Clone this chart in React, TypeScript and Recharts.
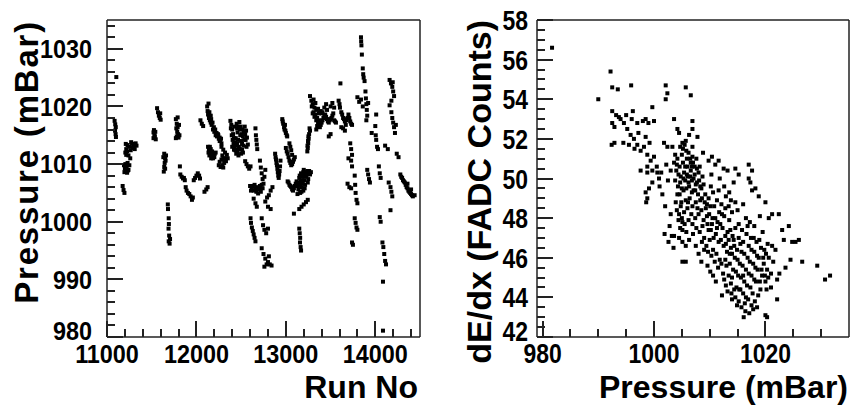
import React from "react";
import { ScatterChart, Scatter, XAxis, YAxis, Label } from "recharts";

// run number vs pressure (mBar)
const runsEarly: [number, number][] = [
  [11104, 1025.1],
  [11085, 1017.5], [11092, 1016.9], [11098, 1016.4], [11090, 1015.8], [11096, 1015.2], [11100, 1014.7],
  [11205, 1012.0], [11215, 1012.6], [11230, 1013.3], [11250, 1013.0], [11265, 1012.4], [11280, 1013.5],
  [11300, 1013.2], [11320, 1013.6], [11240, 1011.5], [11260, 1011.0],
  [11210, 1013.5], [11225, 1012.2], [11270, 1013.8], [11290, 1012.8], [11310, 1012.6], [11330, 1013.2], [11215, 1011.6],
  [11190, 1009.8], [11200, 1009.2], [11210, 1008.7], [11225, 1008.5], [11240, 1009.0], [11250, 1009.8], [11230, 1010.2],
  [11195, 1008.6], [11205, 1010.0], [11220, 1009.6], [11235, 1008.9],
  [11175, 1006.2], [11185, 1005.5], [11195, 1005.0],
  [11520, 1014.5], [11530, 1015.0], [11540, 1015.6], [11525, 1015.9], [11545, 1014.3], [11535, 1014.8], [11520, 1015.5],
  [11560, 1019.7], [11570, 1019.0], [11580, 1018.4], [11590, 1018.0], [11600, 1017.7], [11595, 1018.8],
  [11640, 1011.8], [11650, 1011.0], [11645, 1010.2], [11640, 1009.5], [11635, 1008.7], [11655, 1010.6], [11660, 1011.5],
  [11630, 1011.2], [11650, 1009.2],
  [11680, 1003.0], [11682, 1002.2], [11690, 1000.6], [11692, 999.6], [11688, 998.8], [11695, 997.6],
  [11690, 996.6], [11700, 996.2], [11705, 997.0],
  [11770, 1017.8], [11780, 1017.0], [11790, 1016.4], [11785, 1015.6], [11780, 1014.8], [11800, 1014.6],
  [11810, 1015.0], [11770, 1014.5], [11790, 1018.1], [11775, 1016.2], [11795, 1015.2], [11805, 1016.8],
  [11815, 1009.6], [11820, 1008.2], [11835, 1007.8], [11850, 1007.5], [11860, 1007.6], [11870, 1007.2],
  [11880, 1006.0], [11890, 1005.4], [11905, 1005.0], [11920, 1004.8], [11935, 1004.4], [11950, 1003.8], [11960, 1004.2],
  [11970, 1007.2], [11985, 1007.6], [12000, 1008.0], [12015, 1008.4], [12030, 1008.0], [12040, 1007.5],
  [12090, 1005.2], [12110, 1005.6], [12125, 1006.0],
  [12045, 1017.6], [12060, 1017.0], [12075, 1016.6],
  [12120, 1020.0], [12125, 1019.2], [12130, 1018.6], [12140, 1018.0], [12150, 1017.6], [12160, 1017.2],
  [12170, 1016.8], [12185, 1016.0], [12200, 1015.6], [12215, 1015.0], [12230, 1014.8], [12250, 1014.4],
  [12265, 1014.0], [12280, 1013.6], [12135, 1020.5], [12160, 1018.4],
  [12145, 1019.0], [12165, 1017.8], [12180, 1017.2], [12195, 1016.4], [12210, 1016.0], [12225, 1015.4],
  [12245, 1015.0], [12260, 1014.0], [12275, 1014.4],
  [12130, 1013.0], [12140, 1012.5], [12155, 1012.0], [12170, 1011.5], [12185, 1011.0], [12200, 1011.2],
  [12215, 1012.0], [12150, 1013.0], [12135, 1012.0], [12145, 1011.5], [12160, 1012.6], [12175, 1012.2],
  [12190, 1011.6], [12205, 1011.8], [12165, 1011.0],
  [12240, 1015.2], [12260, 1014.6], [12280, 1013.0], [12300, 1012.5], [12320, 1012.0], [12290, 1011.5], [12310, 1011.0],
  [12250, 1009.8], [12270, 1009.5], [12290, 1009.8], [12310, 1010.2], [12330, 1010.5], [12350, 1011.0],
  [12260, 1010.4], [12280, 1010.8], [12300, 1011.0], [12320, 1010.8], [12340, 1011.6], [12300, 1009.4],
];

const runsMid: [number, number][] = [
  [12380, 1017.5], [12390, 1016.8], [12400, 1016.0], [12410, 1015.2], [12420, 1014.5], [12430, 1013.8],
  [12440, 1013.2], [12450, 1012.5], [12460, 1012.0], [12470, 1011.5], [12400, 1013.0], [12420, 1012.5],
  [12440, 1014.5], [12460, 1015.5], [12470, 1016.5], [12480, 1017.3], [12490, 1015.0], [12500, 1014.0],
  [12510, 1013.5], [12520, 1014.8], [12530, 1015.5], [12540, 1016.5], [12550, 1014.2], [12560, 1013.0],
  [12520, 1012.0], [12500, 1011.8], [12450, 1017.0], [12430, 1016.5],
  [12385, 1016.2], [12395, 1015.0], [12405, 1014.2], [12415, 1013.6], [12425, 1013.0], [12435, 1012.4],
  [12445, 1011.8], [12455, 1013.6], [12465, 1014.2], [12475, 1013.0], [12485, 1016.0], [12495, 1016.5],
  [12505, 1015.2], [12515, 1016.0], [12525, 1013.2], [12535, 1014.2], [12545, 1015.2], [12555, 1015.8],
  [12565, 1014.6], [12575, 1013.4], [12485, 1012.6], [12510, 1012.5], [12455, 1016.2],
  [12545, 1010.5], [12560, 1010.0], [12575, 1009.6], [12590, 1009.2], [12605, 1009.6],
  [12600, 1006.2], [12620, 1005.8], [12640, 1005.4], [12660, 1005.8], [12680, 1006.0], [12700, 1005.6],
  [12720, 1005.2], [12740, 1005.8], [12690, 1004.9],
  [12610, 1005.4], [12630, 1006.2], [12650, 1006.4], [12670, 1005.2], [12710, 1006.2], [12730, 1006.4],
  [12660, 1016.2], [12665, 1015.0], [12670, 1014.2], [12675, 1013.4], [12680, 1012.6],
  [12605, 1000.6], [12610, 999.8], [12620, 999.0], [12630, 998.4], [12640, 997.8], [12650, 997.2], [12660, 996.6],
  [12640, 1004.0], [12660, 1003.2], [12675, 1002.6],
  [12710, 1010.6], [12720, 1009.4], [12730, 1008.4], [12740, 1007.4], [12750, 1006.6], [12760, 1007.8], [12770, 1009.0],
  [12730, 1000.6], [12745, 999.4], [12760, 998.6], [12780, 998.0], [12800, 998.8],
  [12730, 995.4], [12750, 994.4], [12770, 993.6], [12785, 992.6], [12800, 993.0], [12820, 992.6],
  [12840, 992.4], [12760, 992.2], [12810, 994.0],
  [12770, 1003.5], [12790, 1004.2], [12810, 1004.6], [12830, 1005.4], [12850, 1006.0], [12800, 1002.6], [12830, 1002.2],
  [12880, 1011.8], [12890, 1010.8], [12900, 1009.8], [12910, 1008.6], [12920, 1007.6], [12930, 1008.8], [12940, 1010.6],
  [12885, 1011.2], [12895, 1010.2], [12905, 1009.2], [12915, 1008.0], [12925, 1008.2], [12935, 1009.6],
  [12960, 1017.8], [12970, 1017.0], [12985, 1016.0], [13000, 1015.4], [13015, 1014.8], [12990, 1016.8],
  [12965, 1017.4], [12980, 1016.4], [12995, 1015.8], [13010, 1015.0],
  [13000, 1012.8], [13020, 1011.8], [13040, 1010.6], [13060, 1009.8], [13080, 1010.4], [13100, 1011.2],
  [13040, 1013.6], [13060, 1012.4], [13010, 1012.2], [13030, 1011.2], [13050, 1010.2], [13070, 1010.0],
  [13090, 1010.8], [13050, 1013.0], [13070, 1011.6],
  [13020, 1007.0], [13040, 1006.4], [13060, 1006.0], [13080, 1005.4], [13100, 1006.2], [13120, 1007.0],
  [13030, 1006.8], [13050, 1006.2], [13070, 1005.6], [13090, 1005.8], [13110, 1006.6],
  [13140, 1005.6], [13160, 1006.4], [13180, 1007.2], [13200, 1008.0], [13220, 1008.6], [13240, 1008.8],
  [13150, 1007.6], [13170, 1008.4], [13190, 1006.6], [13210, 1005.8], [13130, 1004.8], [13250, 1007.4],
  [13270, 1008.2], [13160, 1005.0],
  [13135, 1006.2], [13145, 1006.8], [13155, 1008.0], [13165, 1007.0], [13175, 1006.0], [13185, 1007.8],
  [13195, 1008.6], [13205, 1007.2], [13215, 1006.4], [13225, 1007.8], [13235, 1008.2], [13245, 1006.8],
  [13175, 1005.2], [13195, 1005.4], [13260, 1008.8], [13280, 1008.6], [13200, 1009.0],
  [13090, 1001.4],
  [13150, 1002.2], [13175, 1002.6], [13200, 1003.0], [13225, 1003.4], [13245, 1003.8],
  [13150, 998.8], [13155, 998.0], [13160, 997.2], [13158, 996.4], [13165, 995.6], [13170, 995.0],
  [13240, 1012.2], [13245, 1012.8], [13250, 1013.6], [13255, 1014.4], [13260, 1015.2], [13270, 1015.8],
  [13242, 1013.2], [13248, 1014.0], [13252, 1014.8], [13265, 1016.2],
];

const runsLate: [number, number][] = [
  [13270, 1021.8], [13285, 1021.0], [13300, 1020.4], [13320, 1019.8], [13340, 1019.4], [13360, 1019.6], [13380, 1019.0],
  [13300, 1018.8], [13320, 1018.2], [13340, 1017.6], [13360, 1017.0], [13380, 1016.4], [13400, 1017.2],
  [13420, 1018.0], [13440, 1018.6], [13460, 1017.8], [13480, 1017.2], [13500, 1017.8], [13520, 1018.4],
  [13540, 1017.6], [13560, 1017.2], [13340, 1016.0], [13400, 1018.8], [13460, 1019.4], [13500, 1020.0],
  [13520, 1020.6], [13540, 1019.8],
  [13310, 1019.0], [13330, 1018.6], [13350, 1018.0], [13370, 1017.6], [13390, 1016.8], [13410, 1017.6],
  [13430, 1018.4], [13450, 1018.2], [13470, 1017.4], [13490, 1017.6], [13510, 1018.0], [13530, 1018.8],
  [13550, 1017.4], [13350, 1016.6], [13370, 1018.8], [13390, 1019.2], [13410, 1019.0], [13430, 1019.8],
  [13450, 1020.4], [13330, 1020.6], [13290, 1020.0], [13310, 1021.2],
  [13480, 1014.8], [13500, 1015.2],
  [13590, 1021.0], [13600, 1020.4], [13620, 1019.0], [13640, 1018.0], [13660, 1017.4], [13680, 1017.6],
  [13700, 1018.6], [13720, 1017.4], [13740, 1016.8], [13620, 1016.4], [13660, 1015.8], [13610, 1024.0],
  [13605, 1019.8], [13630, 1018.6], [13650, 1017.8], [13670, 1016.8], [13690, 1018.0], [13710, 1018.0],
  [13730, 1017.0], [13640, 1016.2],
  [13720, 1013.6], [13730, 1012.6], [13740, 1011.6], [13730, 1010.6], [13740, 1009.6], [13700, 1011.0],
  [13690, 1006.6], [13710, 1006.0], [13730, 1005.8],
  [13770, 1008.0], [13775, 1006.4], [13780, 1005.0], [13790, 1003.8], [13800, 1003.2],
  [13770, 1000.6], [13780, 999.8], [13790, 999.0], [13800, 998.6],
  [13740, 996.4], [13750, 996.0],
  [13800, 1021.6], [13820, 1020.8], [13840, 1021.2], [13860, 1020.0],
  [13840, 1032.0], [13842, 1031.3], [13845, 1030.6], [13850, 1029.0],
  [13860, 1026.6], [13865, 1025.6], [13870, 1025.0], [13880, 1024.4],
  [13890, 1022.6], [13895, 1021.4], [13900, 1020.4], [13905, 1019.4], [13910, 1018.4], [13900, 1017.6],
  [13920, 1020.6], [13960, 1015.4],
  [13910, 1009.0], [13920, 1008.2], [13930, 1007.4], [13940, 1006.8],
  [14010, 1018.6], [14000, 1016.6], [14005, 1015.0], [14010, 1014.2], [14020, 1013.0], [14030, 1012.6],
  [14040, 1009.6], [14050, 1008.4], [14060, 1007.6],
  [14050, 1000.8], [14060, 1000.0],
  [14080, 996.4], [14090, 995.6], [14100, 994.4], [14110, 993.2], [14120, 992.6],
  [14086, 989.6], [14086, 981.1],
  [14110, 1013.2], [14140, 1012.6],
  [14150, 1006.8], [14170, 1006.0], [14180, 1005.2], [14190, 1004.4],
  [14170, 1002.0],
  [14160, 1024.6], [14175, 1024.0], [14190, 1023.4], [14200, 1022.6], [14210, 1021.8], [14180, 1021.0], [14195, 1024.2],
  [14160, 1020.2], [14180, 1019.0], [14190, 1018.0], [14200, 1017.2], [14210, 1016.4], [14220, 1015.4], [14230, 1016.8],
  [14240, 1011.8], [14260, 1011.2],
  [14280, 1008.2], [14300, 1007.6], [14320, 1007.0], [14340, 1006.4], [14360, 1005.8], [14380, 1005.2],
  [14400, 1004.8], [14420, 1004.4], [14440, 1004.6], [14360, 1006.6], [14400, 1005.6],
  [14290, 1007.8], [14310, 1007.2], [14330, 1006.8], [14350, 1006.0], [14370, 1005.4], [14390, 1005.0], [14410, 1004.6],
];

// pressure (mBar) vs dE/dx (FADC counts), right panel
const dedxHigh: [number, number][] = [
  [981.7, 56.6], [990.0, 54.0], [992.2, 55.4], [992.5, 54.6], [993.5, 54.5], [995.9, 54.7],
  [992.5, 53.4], [993.2, 53.2], [992.5, 52.8], [992.9, 52.6], [993.7, 53.1], [992.4, 51.7], [992.9, 51.8],
  [994.0, 53.0], [994.6, 52.8], [995.2, 52.5], [995.8, 52.2], [996.4, 52.0], [997.0, 51.7], [997.6, 51.4],
  [998.2, 51.6], [998.8, 51.2], [999.4, 50.9], [995.0, 53.2], [996.0, 53.0], [997.0, 52.8], [998.0, 52.9],
  [999.0, 52.8], [1000.0, 52.9], [994.5, 51.8], [995.5, 51.7], [996.5, 51.5], [997.2, 52.3], [998.5, 52.1],
  [999.2, 51.8], [1000.0, 51.1], [1000.5, 50.6], [996.2, 53.4], [998.5, 53.0], [999.7, 53.6],
  [997.6, 50.4], [998.8, 50.6], [998.8, 50.3], [999.7, 50.4], [1000.6, 50.3],
  [998.5, 49.3], [999.1, 49.5], [998.8, 49.0], [998.6, 48.8], [999.7, 49.8], [1000.9, 50.0],
  [1002.1, 54.7], [1002.4, 54.3], [1002.1, 54.0], [1005.7, 54.6], [1006.6, 54.2],
  [1003.6, 53.0], [1004.2, 52.5], [1004.5, 52.3], [1006.9, 52.9], [1006.9, 52.5], [1006.3, 52.2],
  [1001.8, 51.8], [1002.4, 51.6], [1003.3, 51.6], [1005.1, 51.8], [1005.7, 51.9], [1006.9, 51.6], [1007.8, 52.1],
  [1001.0, 49.6], [1001.5, 49.2], [1002.0, 48.6], [1002.5, 49.9], [1003.0, 48.2], [1002.8, 47.6],
  [1003.2, 47.1], [1001.9, 47.2], [1002.6, 46.8], [1003.5, 46.5], [1003.0, 50.4], [1002.2, 50.7], [1001.3, 50.3],
];

const dedxBand: [number, number][] = [
  [1003.6, 50.8], [1004.0, 50.4], [1004.2, 51.0], [1004.6, 50.6], [1004.8, 50.1], [1005.0, 51.2],
  [1005.2, 50.8], [1005.4, 50.3], [1005.6, 49.9], [1005.8, 51.4], [1006.0, 50.6], [1006.1, 50.1],
  [1006.3, 49.6], [1006.5, 51.0], [1006.6, 50.4], [1006.8, 49.9], [1007.0, 50.8], [1007.1, 49.4],
  [1007.3, 50.2], [1007.5, 49.7], [1007.7, 50.5], [1007.9, 49.2], [1008.1, 49.9], [1008.3, 48.9],
  [1008.5, 49.5], [1008.7, 50.1], [1004.3, 49.6], [1004.6, 49.2], [1004.9, 48.8], [1005.3, 49.4],
  [1005.7, 48.9], [1006.0, 48.5], [1006.4, 49.0], [1006.9, 48.6], [1003.8, 49.9], [1004.1, 48.4],
  [1004.4, 47.9], [1005.0, 48.0], [1005.5, 47.7], [1006.2, 47.9], [1006.7, 48.2], [1007.4, 48.0],
  [1007.8, 48.5], [1004.7, 51.6], [1005.5, 51.7], [1006.2, 51.3], [1006.9, 51.1], [1007.6, 51.0],
  [1008.2, 50.6], [1008.9, 49.7], [1009.2, 49.2], [1009.5, 48.7],
  [1003.8, 51.2], [1004.1, 50.7], [1004.4, 50.2], [1004.7, 49.8], [1005.0, 49.5], [1005.3, 50.0],
  [1005.6, 50.6], [1005.9, 50.2], [1006.2, 49.8], [1006.5, 50.1], [1006.8, 50.6], [1007.1, 50.0],
  [1007.4, 49.4], [1007.7, 49.8], [1008.0, 50.3], [1008.3, 49.6], [1008.6, 49.0], [1005.2, 51.5],
  [1005.9, 51.0], [1006.6, 50.8], [1007.3, 50.6], [1004.8, 48.6], [1005.4, 48.3], [1006.1, 48.8],
  [1006.8, 49.3], [1007.5, 48.8], [1008.0, 48.2], [1004.2, 49.2], [1005.8, 49.5], [1006.9, 47.7],
  [1007.6, 47.5], [1004.7, 47.5], [1005.8, 47.3], [1006.3, 46.9], [1007.0, 47.2],
  [1008.5, 48.4], [1008.9, 47.9], [1009.3, 48.5], [1009.6, 47.7], [1009.9, 48.2], [1010.2, 47.4],
  [1010.5, 48.0], [1010.8, 48.6], [1011.1, 47.2], [1011.4, 47.8], [1011.7, 48.3], [1012.0, 46.9],
  [1012.3, 47.5], [1012.6, 48.1], [1012.9, 46.7], [1013.2, 47.3], [1013.5, 47.9], [1013.8, 46.5],
  [1014.1, 47.1], [1009.0, 47.0], [1009.4, 46.6], [1010.0, 46.9], [1010.6, 46.4], [1011.2, 46.2],
  [1011.8, 45.9], [1008.2, 47.3], [1008.6, 46.8], [1009.8, 49.0], [1010.6, 49.3], [1011.3, 48.9],
  [1012.1, 48.7], [1012.8, 48.5], [1013.4, 48.6], [1014.0, 48.3], [1014.6, 48.8], [1015.0, 48.4],
  [1010.3, 50.2], [1011.0, 50.7], [1011.8, 50.0], [1012.6, 49.6], [1013.5, 49.3], [1014.3, 49.8],
  [1008.7, 47.6], [1009.1, 48.8], [1009.5, 48.1], [1009.8, 47.4], [1010.1, 48.6], [1010.4, 47.7],
  [1010.7, 47.0], [1011.0, 48.0], [1011.3, 47.5], [1011.6, 46.8], [1011.9, 47.7], [1012.2, 48.2],
  [1012.5, 46.6], [1012.8, 47.1], [1013.1, 46.3], [1013.4, 46.9], [1013.7, 47.4], [1014.0, 46.2],
  [1014.3, 46.9], [1014.6, 47.5], [1014.9, 46.4], [1015.2, 47.7], [1015.5, 46.7], [1010.3, 46.1],
  [1010.9, 45.8], [1011.5, 45.5], [1012.1, 45.7], [1009.7, 46.3], [1010.2, 49.6], [1011.6, 49.4],
  [1012.9, 49.1], [1013.8, 48.9],
  [1007.5, 46.6], [1008.0, 46.2], [1008.5, 45.8], [1009.0, 46.4], [1009.6, 45.6], [1010.1, 45.3],
  [1010.6, 45.1], [1011.1, 44.8], [1005.1, 45.8], [1005.7, 45.8],
  [1003.9, 48.8], [1004.5, 48.2], [1005.1, 47.8], [1005.1, 47.4], [1004.5, 47.0],
  [1003.6, 47.1], [1005.1, 46.8], [1005.7, 46.6],
];

const dedxLow: [number, number][] = [
  [1013.0, 45.6], [1013.4, 45.1], [1013.8, 44.7], [1014.2, 45.4], [1014.5, 46.0], [1014.8, 44.5],
  [1015.1, 45.1], [1015.4, 45.7], [1015.7, 46.3], [1016.0, 44.2], [1016.2, 44.8], [1016.5, 45.4],
  [1016.8, 46.0], [1017.0, 46.6], [1017.3, 44.5], [1017.5, 45.1], [1017.8, 45.7], [1018.0, 46.3],
  [1018.3, 44.8], [1018.6, 45.4], [1018.8, 46.0], [1019.1, 44.4], [1019.4, 45.1], [1019.7, 45.7],
  [1020.0, 44.8], [1020.3, 45.4], [1020.6, 46.0], [1015.2, 43.8], [1015.7, 43.5], [1016.3, 43.7],
  [1016.9, 43.9], [1017.5, 43.6], [1018.1, 43.8], [1014.6, 44.0], [1014.0, 43.9], [1016.0, 46.8],
  [1016.6, 47.2], [1017.4, 47.0], [1018.4, 46.8], [1019.2, 46.5], [1015.2, 47.0], [1014.4, 46.6],
  [1013.6, 46.2], [1012.8, 45.9], [1012.4, 45.2], [1012.9, 44.6], [1019.8, 46.4], [1020.4, 46.7],
  [1021.0, 45.2], [1021.4, 45.8], [1021.0, 44.5],
  [1013.2, 44.3], [1013.6, 45.7], [1014.0, 45.0], [1014.4, 44.4], [1014.7, 45.3], [1015.0, 45.9],
  [1015.3, 44.4], [1015.6, 45.0], [1015.9, 45.6], [1016.2, 46.2], [1016.5, 44.0], [1016.7, 44.6],
  [1017.0, 45.2], [1017.2, 45.8], [1017.5, 46.4], [1017.7, 44.2], [1018.0, 44.9], [1018.2, 45.5],
  [1018.5, 46.1], [1018.7, 44.1], [1019.0, 44.8], [1019.3, 45.4], [1019.6, 46.0], [1019.9, 45.1],
  [1020.2, 44.4], [1020.5, 45.0], [1015.5, 44.4], [1016.0, 45.1], [1016.4, 43.3], [1017.1, 43.2],
  [1017.8, 43.4], [1018.5, 43.5], [1014.9, 43.6], [1016.8, 47.6], [1015.8, 47.4], [1017.9, 47.0],
  [1018.9, 46.9], [1019.5, 47.3], [1020.1, 46.2], [1021.2, 46.6], [1013.9, 44.2], [1012.6, 44.9],
  [1008.8, 51.3], [1009.8, 50.9], [1010.4, 51.1], [1011.6, 50.9], [1012.5, 50.5], [1013.2, 50.4],
  [1014.6, 50.5], [1015.2, 50.2], [1017.0, 50.7], [1017.6, 50.4], [1017.0, 50.0], [1017.3, 49.8],
  [1017.6, 49.4], [1018.2, 49.5], [1018.8, 49.1], [1016.0, 48.7], [1016.5, 48.0], [1017.2, 47.8],
  [1018.0, 47.6], [1019.0, 48.1], [1020.0, 48.8], [1021.2, 48.2], [1022.4, 48.2], [1020.6, 48.0],
  [1023.0, 47.4], [1024.2, 47.6], [1023.3, 46.9], [1024.8, 46.8], [1026.0, 46.9], [1025.4, 46.8],
  [1023.6, 45.5], [1024.5, 45.9], [1026.6, 45.8], [1029.3, 45.6], [1031.6, 45.1], [1030.7, 44.9],
  [1022.1, 44.9], [1022.1, 43.9], [1020.0, 43.1], [1020.3, 43.0], [1016.1, 43.0], [1012.2, 44.1],
  [1021.8, 46.4], [1022.5, 45.2],
];

const runTicks = [11000, 11200, 11400, 11600, 11800, 12000, 12200, 12400, 12600, 12800, 13000,
  13200, 13400, 13600, 13800, 14000, 14200, 14400];
const pressureTicksY = [980, 982, 984, 986, 988, 990, 992, 994, 996, 998, 1000, 1002, 1004, 1006, 1008,
  1010, 1012, 1014, 1016, 1018, 1020, 1022, 1024, 1026, 1028, 1030, 1032, 1034];
const pressureTicksX = [980, 985, 990, 995, 1000, 1005, 1010, 1015, 1020, 1025, 1030];
const dedxTicks = [42, 42.5, 43, 43.5, 44, 44.5, 45, 45.5, 46, 46.5, 47, 47.5, 48, 48.5, 49, 49.5,
  50, 50.5, 51, 51.5, 52, 52.5, 53, 53.5, 54, 54.5, 55, 55.5, 56, 56.5, 57, 57.5, 58];

const FRAME = "#222";
const FONT = "'Liberation Sans', Arial, Helvetica, sans-serif";
const W = 426;
const H = 408;
const TOP = 20;
const BOTTOM = 71;

const toPoints = (rows: [number, number][]) => rows.map(([x, y]) => ({ x, y }));
const isMajor = (v: number, every: number) => Math.abs(v / every - Math.round(v / every)) < 1e-6;

const Square = (p: any) => (
  <rect x={p.cx - 2} y={p.cy - 2} width={4} height={4} fill="#000" />
);

type PanelProps = {
  data: { x: number; y: number }[];
  xDomain: [number, number];
  yDomain: [number, number];
  xTicks: number[];
  yTicks: number[];
  xEvery: number;
  yEvery: number;
  left: number;
  right: number;
  tickFont: number;
  squeeze: number;
  yGap: number;
  xTitleText: string;
  xTitleDx: number;
  yTitleText: string;
  yTitleDx: number;
  yTitleSize: number;
  yTitleSpacing: number;
};

// labels for the major ticks only; the lowest y label is nudged up a little
const makeTickLabel = (side: "x" | "y", every: number, fontSize: number, squeeze: number, gap: number, low: number) =>
  (props: any) => {
    const x = Number(props.x);
    const y = Number(props.y);
    const v = props.payload.value;
    if (!isMajor(v, every)) return <g />;
    if (side === "x") {
      return (
        <text transform={`translate(${x},${y + gap}) scale(${squeeze},1)`} textAnchor="middle"
          fontFamily={FONT} fontWeight="bold" fontSize={fontSize} fill="#000">{v}</text>
      );
    }
    const lift = v === low ? 6 : 0;
    return (
      <text transform={`translate(${x - gap},${y + fontSize * 0.36 - lift}) scale(${squeeze},1)`} textAnchor="end"
        fontFamily={FONT} fontWeight="bold" fontSize={fontSize} fill="#000">{v}</text>
    );
  };

const xTitle = (text: string, dx: number) => (props: any) => {
  const vb = props.viewBox;
  return (
    <text x={vb.x + vb.width - dx} y={vb.y + 61} textAnchor="end" fontFamily={FONT}
      fontWeight="bold" fontSize={32} fill="#000">{text}</text>
  );
};

const yTitle = (text: string, dx: number, size: number, spacing: number) => (props: any) => {
  const vb = props.viewBox;
  return (
    <text transform={`translate(${vb.x + vb.width - dx},${vb.y}) rotate(-90)`} textAnchor="end" fontFamily={FONT}
      fontWeight="bold" fontSize={size} letterSpacing={spacing} fill="#000">{text}</text>
  );
};

// inward tick marks (ROOT style), laid over the chart on the same plot box
const TickOverlay = (p: PanelProps) => {
  const x0 = p.left;
  const x1 = W - p.right;
  const y0 = TOP;
  const y1 = H - BOTTOM;
  const sx = (v: number) => x0 + ((v - p.xDomain[0]) / (p.xDomain[1] - p.xDomain[0])) * (x1 - x0);
  const sy = (v: number) => y1 - ((v - p.yDomain[0]) / (p.yDomain[1] - p.yDomain[0])) * (y1 - y0);
  return (
    <svg width={W} height={H} style={{ position: "absolute", left: 0, top: 0, pointerEvents: "none" }}>
      {p.xTicks.map((v) => {
        const len = isMajor(v, p.xEvery) ? 16 : 8;
        const px = Math.round(sx(v));
        return <rect key={`x${v}`} x={px - 1} y={y1 - len} width={2} height={len} fill={FRAME} />;
      })}
      {p.yTicks.map((v) => {
        const len = isMajor(v, p.yEvery) ? 16 : 8;
        const py = Math.round(sy(v));
        return <rect key={`y${v}`} x={x0} y={py - 1} width={len} height={2} fill={FRAME} />;
      })}
    </svg>
  );
};

const Panel = (p: PanelProps) => (
  <div style={{ position: "relative", width: W, height: H }}>
    <ScatterChart width={W} height={H} margin={{ top: 0, right: 0, bottom: 0, left: 0 }}>
      <XAxis dataKey="x" type="number" domain={p.xDomain} allowDataOverflow ticks={p.xTicks} interval={0}
        height={BOTTOM} tickSize={0} tickMargin={0} tickLine={false} axisLine={{ stroke: FRAME, strokeWidth: 1.5 }}
        tick={makeTickLabel("x", p.xEvery, p.tickFont, p.squeeze, 26, p.xDomain[0])}>
        <Label content={xTitle(p.xTitleText, p.xTitleDx)} />
      </XAxis>
      <YAxis dataKey="y" type="number" domain={p.yDomain} allowDataOverflow ticks={p.yTicks} interval={0}
        width={p.left} tickSize={0} tickMargin={0} tickLine={false} axisLine={{ stroke: FRAME, strokeWidth: 1.5 }}
        tick={makeTickLabel("y", p.yEvery, p.tickFont, p.squeeze, p.yGap, p.yDomain[0])}>
        <Label content={yTitle(p.yTitleText, p.yTitleDx, p.yTitleSize, p.yTitleSpacing)} />
      </YAxis>
      <XAxis xAxisId="top" orientation="top" type="number" domain={p.xDomain} allowDataOverflow height={TOP}
        tick={false} tickLine={false} axisLine={{ stroke: FRAME, strokeWidth: 1.5 }} />
      <YAxis yAxisId="right" orientation="right" type="number" domain={p.yDomain} allowDataOverflow width={p.right}
        tick={false} tickLine={false} axisLine={{ stroke: FRAME, strokeWidth: 1.5 }} />
      <Scatter data={p.data} shape={Square} isAnimationActive={false} />
    </ScatterChart>
    <TickOverlay {...p} />
  </div>
);

export default function App() {
  const pressureByRun = toPoints([...runsEarly, ...runsMid, ...runsLate]);
  const dedxByPressure = toPoints([...dedxHigh, ...dedxBand, ...dedxLow]);
  return (
    <div style={{ position: "absolute", left: 0, top: 0, width: 852, height: 408, background: "#fff" }}>
      <div style={{ position: "absolute", left: 0, top: 0 }}>
        <Panel data={pressureByRun} xDomain={[11000, 14500]} yDomain={[980, 1035]}
          xTicks={runTicks} yTicks={pressureTicksY} xEvery={1000} yEvery={10}
          left={107} right={6} tickFont={26} squeeze={0.9} yGap={15}
          xTitleText="Run No" xTitleDx={2} yTitleText="Pressure (mBar)" yTitleDx={69}
          yTitleSize={33} yTitleSpacing={1.8} />
      </div>
      <div style={{ position: "absolute", left: 426, top: 0 }}>
        <Panel data={dedxByPressure} xDomain={[979, 1035]} yDomain={[42, 58]}
          xTicks={pressureTicksX} yTicks={dedxTicks} xEvery={20} yEvery={2}
          left={111} right={3} tickFont={28} squeeze={0.82} yGap={9}
          xTitleText="Pressure (mBar)" xTitleDx={1} yTitleText="dE/dx (FADC Counts)" yTitleDx={46}
          yTitleSize={34} yTitleSpacing={0} />
      </div>
    </div>
  );
}
